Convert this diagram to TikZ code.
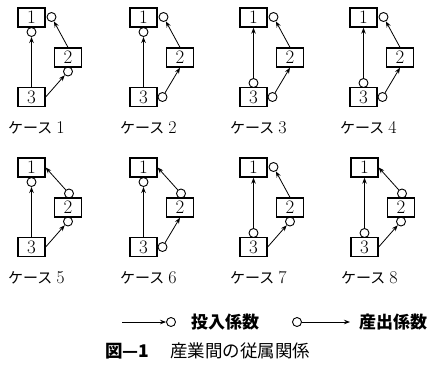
\documentclass[tikz,border=0pt]{standalone}
\usepackage{fontspec}
\newfontfamily\cjk{Noto Sans CJK JP}
\newfontfamily\lmr{Latin Modern Roman}
\usetikzlibrary{arrows.meta}
\tikzset{
  box/.style={draw, line width=1.3pt, minimum width=27pt, minimum height=19pt, inner sep=0pt, font=\lmr\fontsize{19}{19}\selectfont},
  circ/.style={draw, circle, line width=0.9pt, minimum size=9pt, inner sep=0pt},
  arr/.style={-{Stealth[length=6pt,width=4.5pt]}, line width=0.8pt},
  arrthick/.style={-{Stealth[length=6pt,width=4.5pt]}, line width=1.2pt},
  lab/.style={inner sep=0pt, font=\fontsize{15}{15}\selectfont\cjk},
  legtxt/.style={inner sep=0pt, font=\fontsize{17}{17}\selectfont\cjk\bfseries},
}
\newcommand\kase[6]{%
 \begin{scope}[shift={(#1,#2)}]
  \node[box] (b1-#3) at (13.5,9.5) {1};
  \node[box] (b2-#3) at (50,49.5) {2};
  \node[box] (b3-#3) at (13.5,89) {3};
  \node[lab, anchor=west] (l-#3) at (-10,119.5) {ケース\hspace{4pt}{\lmr\fontsize{18}{18}\selectfont #3}};
  \ifx#4i
    \node[circ] (c31-#3) at (13.5,24) {};
    \draw[arrthick] (b3-#3.north) -- (c31-#3);
  \else
    \node[circ] (c31-#3) at (13.5,75) {};
    \draw[arrthick] (c31-#3) -- (b1-#3.south);
  \fi
  \ifx#5i
    \node[circ] (c32-#3) at (50,63.5) {};
    \draw[arr] (b3-#3.east) -- (c32-#3);
  \else
    \node[circ] (c32-#3) at (32.5,89) {};
    \draw[arr] (c32-#3) -- (b2-#3.south);
  \fi
  \ifx#6i
    \node[circ] (c21-#3) at (33.5,9) {};
    \draw[arr] (b2-#3.north) -- (c21-#3);
  \else
    \node[circ] (c21-#3) at (51,35.5) {};
    \draw[arr] (c21-#3) -- (b1-#3.east);
  \fi
 \end{scope}}
\begin{document}
\begin{tikzpicture}[x=1pt,y=-1pt]
\useasboundingbox (0,0) rectangle (430,365);
\kase{18}{8}{1}{i}{i}{i}
\kase{130}{8}{2}{i}{o}{i}
\kase{240}{8}{3}{o}{o}{i}
\kase{350}{8}{4}{o}{o}{i}
\kase{18}{158}{5}{i}{i}{o}
\kase{130}{158}{6}{i}{o}{o}
\kase{240}{158}{7}{o}{i}{i}
\kase{351}{158}{8}{o}{i}{o}
% legend
\coordinate (la) at (122,322);
\node[circ] (lc1) at (171,322) {};
\draw[arr] (la) -- (lc1);
\node[legtxt, anchor=west] (lt1) at (191,322) {投入係数};
\node[circ] (lc2) at (297,322) {};
\coordinate (lb) at (350,322);
\draw[arr] (lc2) -- (lb);
\node[legtxt, anchor=west] (lt2) at (359,322) {産出係数};
% caption
\node[inner sep=0pt, anchor=west, font=\fontsize{17.5}{17.5}\selectfont\cjk\bfseries] (cap1) at (105,351) {図—1};
\node[inner sep=0pt, anchor=west, font=\fontsize{17.5}{17.5}\selectfont\cjk] (cap2) at (170,351) {産業間の従属関係};
\end{tikzpicture}
\end{document}
